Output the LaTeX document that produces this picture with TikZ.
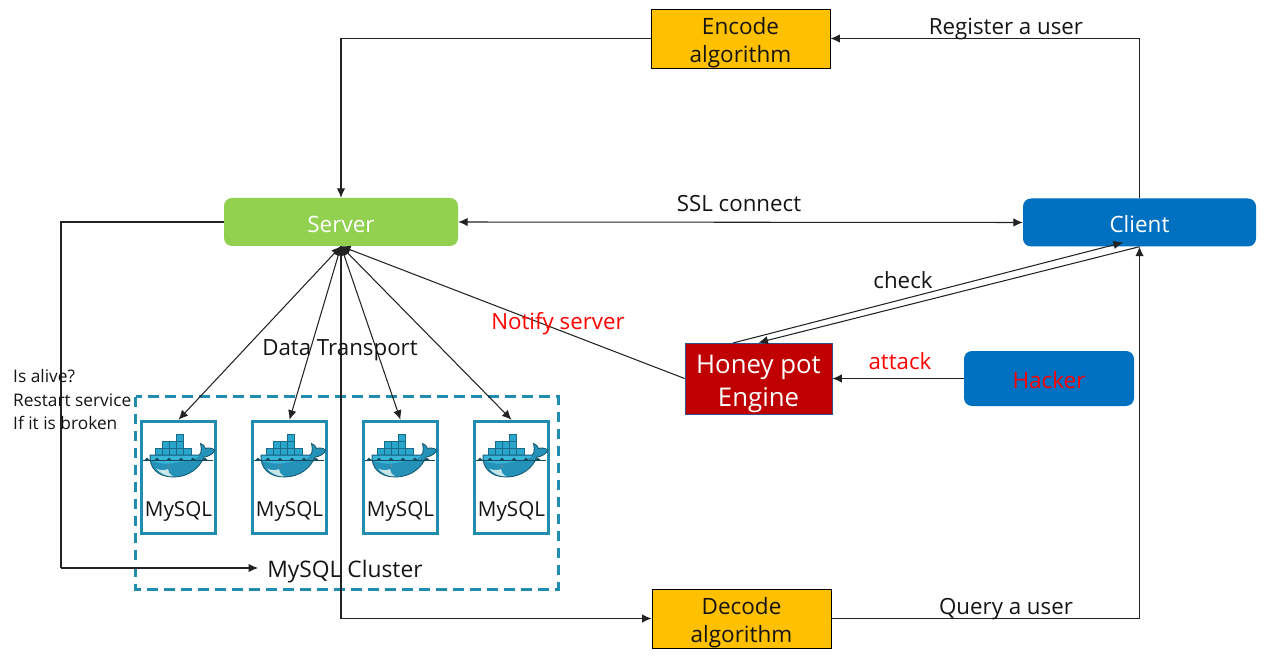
\documentclass[tikz,border=0pt]{standalone}
\usepackage{fontspec}
\setmainfont{Open Sans}
\usetikzlibrary{arrows.meta,calc}
\definecolor{dockerblue}{HTML}{1F8CB0}
\definecolor{crate}{HTML}{2AA5CB}
\definecolor{crateline}{HTML}{1A6C88}
\definecolor{whalebody}{HTML}{2492B9}
\definecolor{whaletop}{HTML}{3BB4DA}
\definecolor{belly}{HTML}{C8E6E8}
\definecolor{encodefill}{HTML}{FFC000}
\definecolor{serverfill}{HTML}{92D050}
\definecolor{clientfill}{HTML}{0070C0}
\definecolor{honeyfill}{HTML}{C00000}
\definecolor{honeyline}{HTML}{2F528F}
\definecolor{wire}{HTML}{222222}
\newcommand{\fsz}[1]{\fontsize{#1}{#1}\selectfont}
\newcommand{\pushdown}[1]{\rule{0pt}{#1pt}}
\tikzset{
  x=1pt,y=-1pt,
  wirearrow/.style={draw=wire,line width=1.05pt,-{Latex[length=9.5pt,width=8.5pt]}},
  plainwire/.style={draw=wire,line width=1.05pt},
  bothwire/.style={draw=wire,line width=1.05pt,{Latex[length=9.5pt,width=8.5pt]}-{Latex[length=9.5pt,width=8.5pt]}},
  algobox/.style={draw=black,line width=0.9pt,fill=encodefill,minimum width=179pt,minimum height=59pt,inner sep=0pt,align=center,font=\fsz{22.5},text=black!92},
  roundbox/.style={rounded corners=8pt,minimum height=48pt,inner sep=0pt,font=\fsz{22.5},text=white},
  dbbox/.style={draw=dockerblue,line width=3pt,fill=white,minimum width=74.5pt,minimum height=112.5pt,inner sep=0pt},
  dbtext/.style={font=\fsz{20.6},text=black!92,inner sep=0pt},
  lbl/.style={font=\fsz{22.3},text=black!92,inner sep=0pt},
  redlbl/.style={font=\fsz{22.3},text=red,inner sep=0pt},
  smalllbl/.style={font=\fsz{17.3},text=black!92,inner sep=0pt,anchor=west},
  whale/.pic={
    % crates
    \foreach \cx/\cy in {15/28.3,22.2/28.3,29.4/28.3,36.6/28.3,43.8/28.3,22.2/21.6,29.4/21.6,36.6/21.6,36.6/14.8}{
      \fill[crate,draw=crateline,line width=0.7pt] (\cx,\cy) rectangle ++(7.2,6.7);
    }
    % body
    \fill[whalebody,draw=crateline!80!black,line width=0.8pt]
      (10,35) -- (59,35) .. controls (61,34) and (62,30) .. (60.5,23.5)
      .. controls (62.5,24) and (65,26) .. (65.5,28.5)
      .. controls (68,27.5) and (72,28) .. (75,30)
      .. controls (73,34) and (69,36.5) .. (64,37)
      .. controls (60,47) and (50,57) .. (33,57)
      .. controls (18,57) and (9,48) .. (10,35) -- cycle;
    \fill[whaletop] (11,36) -- (59,36) .. controls (53,42) and (45,40) .. (33,43) .. controls (24,45) and (16,42) .. (11,41) -- cycle;
    \fill[belly] (16,48.5) .. controls (21,51) and (26,50) .. (28,49) .. controls (28,52) and (30,55) .. (33,56.3) .. controls (25,56.5) and (20,53) .. (16,48.5) -- cycle;
    \fill[white,draw=crateline,line width=0.5pt] (29,46) circle (1.3pt);
    % water
    \draw[crateline!70!black,line width=0.7pt] (3,40) -- (73,40);
    \foreach \wx in {7,17,29,41,53,65}{
      \fill[crateline!70!black] (\wx-2.5,40) -- (\wx,37.6) -- (\wx+2.5,40) -- cycle;
    }
  }
}
\begin{document}
\begin{tikzpicture}
\useasboundingbox (0,0) rectangle (1269,660);
% cluster
\draw[dockerblue,line width=3pt,dash pattern=on 10.5pt off 6.5pt] (135.5,396.5) rectangle (558,589);
% mysql boxes
\foreach \i/\cx in {1/178.5,2/289.5,3/400.5,4/511.5}{
  \node[dbbox] (m\i) at (\cx,477.5) {};
  \pic at (\cx-38.5,420) {whale};
  \node[dbtext] (mt\i) at (\cx,512) {MySQL};
}
% nodes
\node[algobox] (encode) at (740.5,38.5) {\pushdown{25}Encode\\[5pt]algorithm};
\node[algobox] (decode) at (741.5,618.5) {\pushdown{25}Decode\\[5pt]algorithm};
\node[roundbox,fill=serverfill,minimum width=234pt] (server) at (341,222) {\pushdown{20.5}Server};
\node[roundbox,fill=clientfill,minimum width=233pt] (client) at (1139.5,222.5) {\pushdown{20.5}Client};
\node[roundbox,fill=clientfill,minimum width=170pt,minimum height=55pt,text=red] (hacker) at (1049,378.5) {\pushdown{19.5}Hacker};
\node[draw=honeyline,line width=0.8pt,fill=honeyfill,minimum width=147pt,minimum height=71pt,inner sep=0pt,align=center,font=\fsz{25.8},text=white] (honey) at (758.5,378.5) {\pushdown{29}Honey pot\\[7pt]Engine};
\node[font=\fsz{22.8},text=black!92,inner sep=0pt] (clusterlabel) at (345,572) {MySQL Cluster};
\coordinate (clusterin) at (258,568);
\coordinate (leftbend) at (61,222);
\coordinate (leftdown) at (61,568);
\coordinate (honeyout) at (733,343);
\coordinate (clienthit) at (1123,242.5);
% connectors
\draw[wirearrow] (encode.west) -| (server.north);
\draw[wirearrow] (client.north) |- (encode.east);
\draw[plainwire] (server.west) -- (leftbend) -- (leftdown);
\draw[wirearrow] (leftdown) -- (clusterin);
\draw[wirearrow] (server.south) |- (decode.west);
\draw[wirearrow] (decode.east) -| (client.south);
\draw[bothwire] (server.east) -- (client.west);
\foreach \i in {1,2,3,4}{
  \draw[bothwire] (server.south) -- (m\i.north);
}
\draw[wirearrow] (honey.west) -- (server.south);
\draw[wirearrow] (honeyout) -- (clienthit);
\draw[wirearrow] (client.south) -- (honey.north);
\draw[wirearrow] (hacker.west) -- (honey.east);
% labels
\node[lbl] (reg) at (1006,29) {Register a user};
\node[lbl] (query) at (1006,609) {Query a user};
\node[lbl] (ssl) at (739,204) {SSL connect};
\node[lbl] (check) at (903,280) {check};
\node[redlbl] (attack) at (900,361) {attack};
\node[redlbl] (notify) at (558,324) {Notify server};
\node[lbl] (data) at (340,350) {Data Transport};
\node[smalllbl] (alive1) at (13,376) {Is alive?};
\node[smalllbl] (alive2) at (13,400) {Restart service};
\node[smalllbl] (alive3) at (13,423) {If it is broken};
\end{tikzpicture}
\end{document}
